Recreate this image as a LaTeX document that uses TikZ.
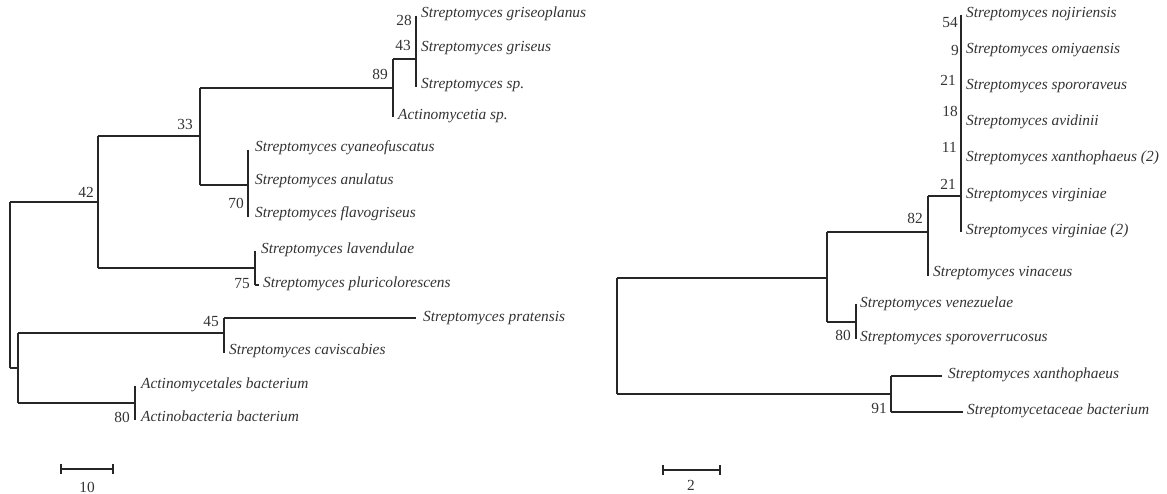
\documentclass[tikz,border=0pt]{standalone}
\usepackage{fontspec}
\setmainfont{Liberation Serif}
\begin{document}
\begin{tikzpicture}[x=1pt,y=-1pt,
  br/.style={draw=black!85, line width=1.1pt},
  tip/.style={anchor=west, inner sep=0pt, font=\fontsize{15.4}{17}\selectfont\itshape, text=black!80},
  bs/.style={anchor=east, inner sep=0pt, font=\fontsize{15.4}{17}\selectfont, text=black!80}]
\useasboundingbox (0,0) rectangle (1167,494);
% ===== left tree =====
\coordinate (LR1) at (10,202); \coordinate (LR2) at (10,368);
\coordinate (A42) at (98,202); \coordinate (A42t) at (98,136); \coordinate (A42b) at (98,268);
\coordinate (A33) at (200,136); \coordinate (A33t) at (200,88); \coordinate (A33b) at (200,185);
\coordinate (A89) at (393,88); \coordinate (A89t) at (393,59); \coordinate (A89b) at (393,117);
\coordinate (A43) at (416,59); \coordinate (A43t) at (416,16); \coordinate (A43b) at (416,87);
\coordinate (A70) at (248,185); \coordinate (A70t) at (248,150); \coordinate (A70b) at (248,217);
\coordinate (A75) at (255,268); \coordinate (A75t) at (255,251); \coordinate (A75b) at (255,285);
\coordinate (AX) at (18,368); \coordinate (AXt) at (18,333); \coordinate (AXb) at (18,403);
\coordinate (A45) at (224,333); \coordinate (A45t) at (224,318); \coordinate (A45b) at (224,353);
\coordinate (A80) at (135,403); \coordinate (A80t) at (135,386); \coordinate (A80b) at (135,420);

\node[tip] (t1) at (421,14) {Streptomyces griseoplanus};
\node[tip] (t2) at (421,48) {Streptomyces griseus};
\node[tip] (t3) at (421,85) {Streptomyces sp.};
\node[tip] (t4) at (398,116) {Actinomycetia sp.};
\node[tip] (t5) at (255,148) {Streptomyces cyaneofuscatus};
\node[tip] (t6) at (255,181) {Streptomyces anulatus};
\node[tip] (t7) at (255,214) {Streptomyces flavogriseus};
\node[tip] (t8) at (261,250) {Streptomyces lavendulae};
\node[tip] (t9) at (263,284) {Streptomyces pluricolorescens};
\node[tip] (t10) at (423,318) {Streptomyces pratensis};
\node[tip] (t11) at (229,351) {Streptomyces caviscabies};
\node[tip] (t12) at (141,385) {Actinomycetales bacterium};
\node[tip] (t13) at (141,416) {Actinobacteria bacterium};

\draw[br] (LR1) -- (LR2);
\draw[br] (LR1) -- (A42);
\draw[br] (A42t) -- (A42b);
\draw[br] (A42t) -- (A33);
\draw[br] (A33t) -- (A33b);
\draw[br] (A33t) -- (A89);
\draw[br] (A89t) -- (A89b);
\draw[br] (A89t) -- (A43);
\draw[br] (A43t) -- (A43b);
\draw[br] (A33b) -- (A70);
\draw[br] (A70t) -- (A70b);
\draw[br] (A42b) -- (A75);
\draw[br] (A75t) -- (A75b);
\draw[br] (A75b) -- ([xshift=-4pt]A75b -| t9.west);
\draw[br] (LR2) -- (AX);
\draw[br] (AXt) -- (AXb);
\draw[br] (AXt) -- (A45);
\draw[br] (A45t) -- (A45b);
\draw[br] (A45t) -- ([xshift=-7pt]t10.west);
\draw[br] (AXb) -- (A80);
\draw[br] (A80t) -- (A80b);

\node[bs] (b28) at (412,20) {28};
\node[bs] (b43) at (411,45) {43};
\node[bs] (b89) at (388,74) {89};
\node[bs] (b33) at (193,124) {33};
\node[bs] (b70) at (244,203) {70};
\node[bs] (b42) at (94,192) {42};
\node[bs] (b75) at (250,284) {75};
\node[bs] (b45) at (219,322) {45};
\node[bs] (b80) at (130,417) {80};

% scale bar left
\coordinate (S1a) at (61,469); \coordinate (S1b) at (113,469);
\draw[br] (S1a) -- (S1b);
\draw[br] ([yshift=-5pt]S1a) -- ([yshift=5pt]S1a);
\draw[br] ([yshift=-5pt]S1b) -- ([yshift=5pt]S1b);
\node[bs, anchor=center] (s10) at (87,487) {10};

% ===== right tree =====
\coordinate (R1) at (617,278); \coordinate (R2) at (617,394);
\coordinate (B1) at (827,278); \coordinate (B1t) at (827,232); \coordinate (B1b) at (827,322);
\coordinate (B82) at (928,232); \coordinate (B82t) at (928,196); \coordinate (B82b) at (928,276);
\coordinate (BC) at (961,196); \coordinate (BCt) at (961,15); \coordinate (BCb) at (961,232);
\coordinate (B80) at (856,322); \coordinate (B80t) at (856,304); \coordinate (B80b) at (856,339);
\coordinate (B91) at (891,394); \coordinate (B91t) at (891,376); \coordinate (B91b) at (891,412);

\node[tip] (u1) at (966,14) {Streptomyces nojiriensis};
\node[tip] (u2) at (966,50) {Streptomyces omiyaensis};
\node[tip] (u3) at (966,86) {Streptomyces spororaveus};
\node[tip] (u4) at (966,122) {Streptomyces avidinii};
\node[tip] (u5) at (966,158) {Streptomyces xanthophaeus (2)};
\node[tip] (u6) at (966,195) {Streptomyces virginiae};
\node[tip] (u7) at (966,231) {Streptomyces virginiae (2)};
\node[tip] (u8) at (933,273) {Streptomyces vinaceus};
\node[tip] (u9) at (860,304) {Streptomyces venezuelae};
\node[tip] (u10) at (860,338) {Streptomyces sporoverrucosus};
\node[tip] (u11) at (948,375) {Streptomyces xanthophaeus};
\node[tip] (u12) at (967,411) {Streptomycetaceae bacterium};

\draw[br] (R1) -- (R2);
\draw[br] (R1) -- (B1);
\draw[br] (B1t) -- (B1b);
\draw[br] (B1t) -- (B82);
\draw[br] (B82t) -- (B82b);
\draw[br] (B82t) -- (BC);
\draw[br] (BCt) -- (BCb);
\draw[br] (B1b) -- (B80);
\draw[br] (B80t) -- (B80b);
\draw[br] (R2) -- (B91);
\draw[br] (B91t) -- (B91b);
\draw[br] (B91t) -- ([xshift=-6pt]B91t -| u11.west);
\draw[br] (B91b) -- ([xshift=-4pt]B91b -| u12.west);

\node[bs] (c54) at (958,23) {54};
\node[bs] (c9) at (959,50) {9};
\node[bs] (c21a) at (956,80) {21};
\node[bs] (c18) at (958,111) {18};
\node[bs] (c11) at (957,147) {11};
\node[bs] (c21b) at (956,184) {21};
\node[bs] (c82) at (923,218) {82};
\node[bs] (c80) at (851,335) {80};
\node[bs] (c91) at (887,408) {91};

% scale bar right
\coordinate (S2a) at (663,470); \coordinate (S2b) at (720,470);
\draw[br] (S2a) -- (S2b);
\draw[br] ([yshift=-5pt]S2a) -- ([yshift=5pt]S2a);
\draw[br] ([yshift=-5pt]S2b) -- ([yshift=5pt]S2b);
\node[bs, anchor=center] (s2) at (691,485) {2};
\end{tikzpicture}
\end{document}
